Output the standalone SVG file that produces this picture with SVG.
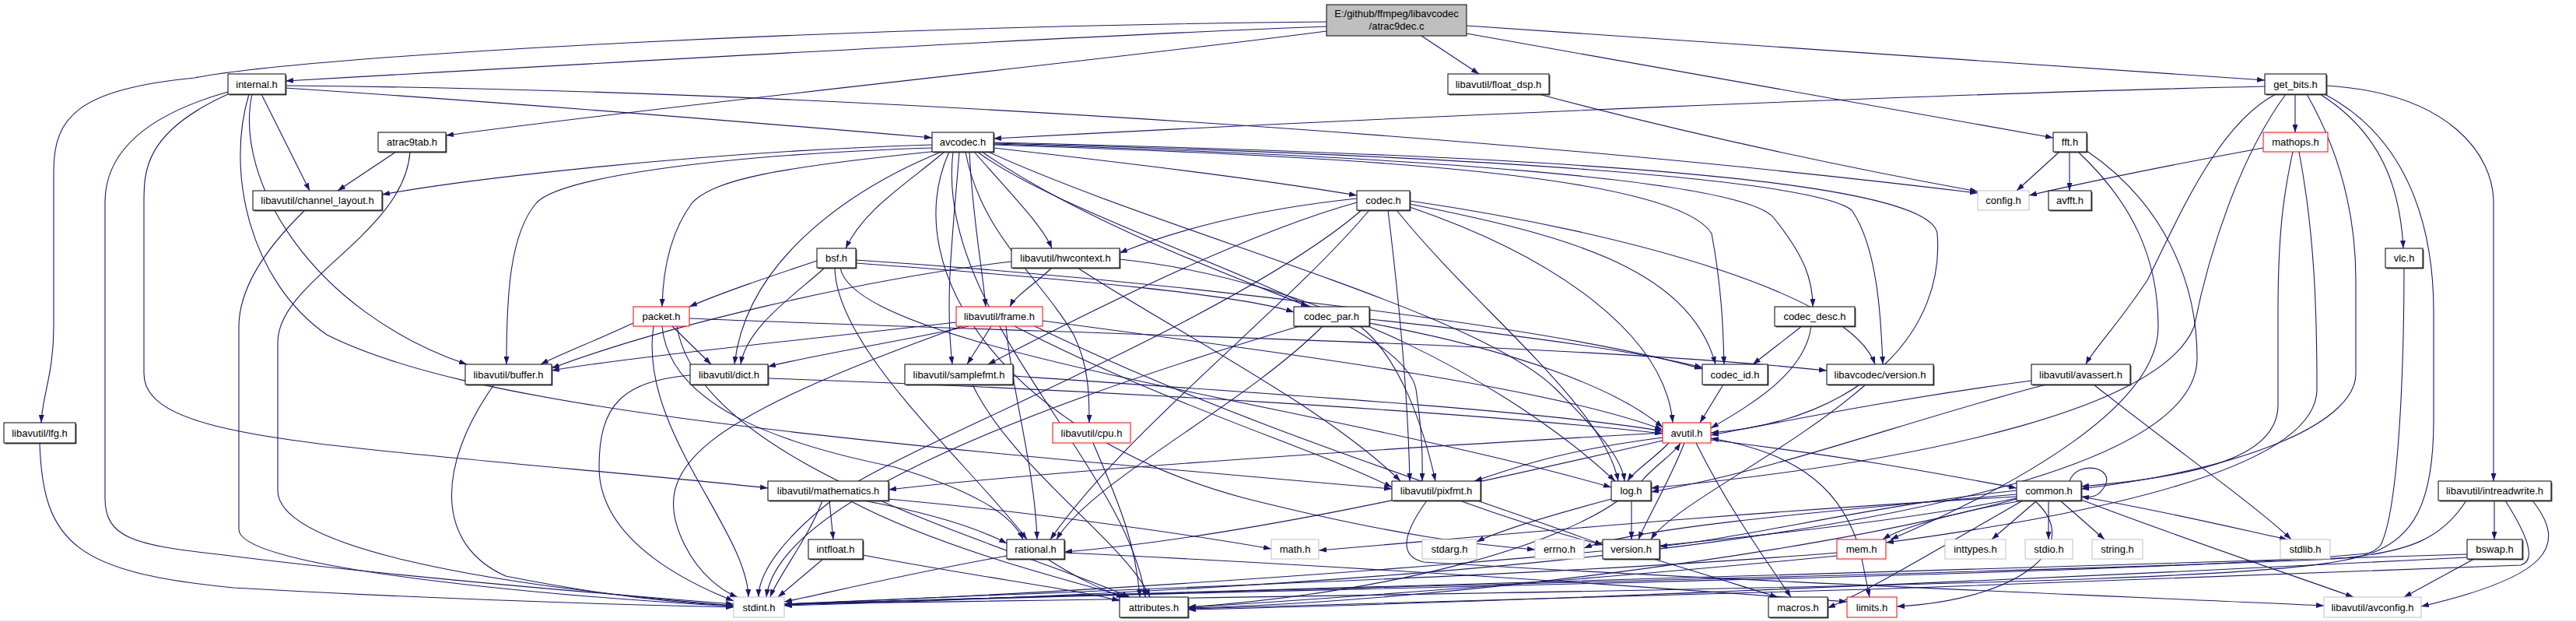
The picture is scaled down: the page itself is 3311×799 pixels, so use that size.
<svg xmlns="http://www.w3.org/2000/svg" width="3311" height="799" viewBox="0 0 3311 799">
<style>
.e{fill:none;stroke:#191970;stroke-width:1.1;marker-end:url(#a)}
.b{fill:#fff;stroke:#000;stroke-width:1}
.r{fill:#fff;stroke:#ff0000;stroke-width:1}
.g{fill:#fff;stroke:#bfbfbf;stroke-width:1}
.s{fill:#505050}
text{font-family:"Liberation Sans",Arial,sans-serif;font-size:13px;fill:#000;text-anchor:middle}
</style>
<defs>
<marker id="a" viewBox="0 0 10 7" refX="10" refY="3.5" markerWidth="10" markerHeight="7" markerUnits="userSpaceOnUse" orient="auto"><path d="M0,0 L10,3.5 L0,7 z" fill="#191970"/></marker>
</defs>
<rect width="3311" height="799" fill="#fff"/>
<line x1="0" y1="798" x2="3311" y2="798" stroke="#c0c0c0"/>
<g id="edges">
<path class="e" d="M1705,34 C1400,45 700,85 367,104"/>
<path class="e" d="M1705,28 C1100,34 400,70 250,100 C100,115 69,150 69,220 L69,420 C69,480 54,510 53,543"/>
<path class="e" d="M1705,40 C1400,80 900,130 573,174"/>
<path class="e" d="M1827,46 L1901,95"/>
<path class="e" d="M1885,33 L2911,103"/>
<path class="e" d="M1885,43 L2639,177"/>
<path class="e" d="M367,113 C700,135 1000,160 1198,177"/>
<path class="e" d="M367,110 C1000,115 1900,170 2542,248"/>
<path class="e" d="M336,121 L398,245"/>
<path class="e" d="M293,118 C180,150 135,200 135,260 L135,640 C135,690 170,700 280,712 C500,740 800,765 943,776"/>
<path class="e" d="M293,121 C185,170 185,220 185,260 L185,480 C185,540 300,560 520,582 C700,600 850,612 987,627"/>
<path class="e" d="M320,121 C290,220 320,360 420,430 C600,520 1000,560 1789,628"/>
<path class="e" d="M324,121 C300,230 400,400 600,468"/>
<path class="e" d="M509,195 L434,245"/>
<path class="e" d="M527,195 C520,300 357,360 357,440 L357,630 C357,700 600,750 943,778"/>
<path class="e" d="M392,270 C330,330 307,380 307,420 L307,680 C307,730 700,765 943,779"/>
<path class="e" d="M51,569 C55,700 100,735 300,755 C600,772 850,778 943,780"/>
<path class="e" d="M1198,186 C900,195 600,230 491,250"/>
<path class="e" d="M1206,194 C1000,215 920,230 890,260 C860,300 852,350 851,394"/>
<path class="e" d="M1214,195 C1160,240 1110,270 1087,319"/>
<path class="e" d="M1198,190 C900,200 720,230 690,260 C655,300 651,380 651,468"/>
<path class="e" d="M1210,195 C1100,240 960,330 944,468"/>
<path class="e" d="M1246,195 C1250,280 1262,340 1267,394"/>
<path class="e" d="M1233,195 C1225,300 1214,380 1224,468"/>
<path class="e" d="M1252,195 C1300,250 1340,290 1352,319"/>
<path class="e" d="M1241,195 C1260,300 1340,360 1380,430 C1400,470 1400,510 1400,543"/>
<path class="e" d="M1277,190 C1500,215 1650,235 1744,251"/>
<path class="e" d="M1262,195 C1400,290 1600,360 1682,394"/>
<path class="e" d="M1277,186 C1700,200 2150,220 2200,300 C2215,380 2215,440 2216,468"/>
<path class="e" d="M1277,185 C1800,200 2240,230 2280,280 C2320,330 2330,360 2330,394"/>
<path class="e" d="M1277,184 C1900,200 2330,230 2380,270 C2415,320 2418,420 2420,468"/>
<path class="e" d="M1277,183 C2000,200 2480,230 2490,300 C2500,420 2400,540 2199,556"/>
<path class="e" d="M1270,195 C1500,300 1900,400 2000,500 C2060,560 2085,590 2088,618"/>
<path class="e" d="M1256,195 C1400,300 1800,400 1820,500 C1830,570 1828,600 1828,618"/>
<path class="e" d="M1225,195 C1200,400 1450,600 1472,767"/>
<path class="e" d="M1220,195 C1150,350 1300,560 1600,640 C1800,690 1900,700 1973,706"/>
<path class="e" d="M1744,255 C1600,270 1500,300 1439,325"/>
<path class="e" d="M1744,260 C1600,300 1400,400 1270,468"/>
<path class="e" d="M1750,270 C1600,400 1200,560 1100,620 C1000,690 975,740 975,767"/>
<path class="e" d="M1760,270 C1650,400 1450,550 1350,693"/>
<path class="e" d="M1784,270 C1800,400 1810,520 1812,618"/>
<path class="e" d="M1795,270 C1900,400 2060,520 2080,618"/>
<path class="e" d="M1812,262 C2000,300 2170,340 2205,468"/>
<path class="e" d="M1812,258 C2100,300 2380,380 2410,468"/>
<path class="e" d="M1812,266 C2000,330 2140,430 2150,543"/>
<path class="e" d="M1050,335 C990,355 930,375 886,394"/>
<path class="e" d="M1060,344 C1020,380 960,420 952,468"/>
<path class="e" d="M1073,344 C1075,450 1250,600 1320,693"/>
<path class="e" d="M1100,338 C1400,360 1600,380 1663,401"/>
<path class="e" d="M1100,334 C1500,360 2000,420 2188,474"/>
<path class="e" d="M1080,344 C1100,450 1700,520 2071,626"/>
<path class="e" d="M1300,336 C1100,360 850,420 709,473"/>
<path class="e" d="M1352,344 C1330,365 1305,380 1298,394"/>
<path class="e" d="M1385,344 C1500,420 1700,520 1800,618"/>
<path class="e" d="M1439,333 C1700,360 1950,500 2076,618"/>
<path class="e" d="M3090,344 C3090,450 3085,650 3060,700 C3030,740 2800,750 1008,776"/>
<path class="e" d="M814,415 C760,440 720,455 695,468"/>
<path class="e" d="M864,419 L914,468"/>
<path class="e" d="M851,419 C860,520 1000,570 1150,600 C1250,630 1300,660 1315,693"/>
<path class="e" d="M840,419 C820,550 960,680 962,767"/>
<path class="e" d="M870,419 C900,600 1300,700 1452,767"/>
<path class="e" d="M886,409 C1400,430 2000,440 2348,476"/>
<path class="e" d="M1229,414 C1000,440 800,460 709,476"/>
<path class="e" d="M1245,419 C1150,440 1050,455 987,471"/>
<path class="e" d="M1236,419 C900,540 830,600 880,700 C900,740 930,760 948,767"/>
<path class="e" d="M1274,419 L1243,468"/>
<path class="e" d="M1293,419 C1300,500 1330,600 1333,693"/>
<path class="e" d="M1304,419 C1500,520 1700,580 1789,626"/>
<path class="e" d="M1340,412 C1700,460 2000,500 2137,552"/>
<path class="e" d="M1330,419 C1600,550 1900,640 2060,700"/>
<path class="e" d="M1700,419 C1600,520 1400,620 1358,693"/>
<path class="e" d="M1670,419 C1300,530 1000,650 985,767"/>
<path class="e" d="M1748,419 C1800,460 1830,550 1845,618"/>
<path class="e" d="M1760,410 C1950,430 2100,450 2188,472"/>
<path class="e" d="M1760,415 C1950,450 2080,500 2137,549"/>
<path class="e" d="M2316,419 L2253,468"/>
<path class="e" d="M2328,419 C2320,480 2250,520 2199,550"/>
<path class="e" d="M2215,494 L2185,543"/>
<path class="e" d="M2398,494 C2300,580 2150,650 2122,693"/>
<path class="e" d="M887,482 C800,490 770,520 770,600 C770,700 900,755 943,772"/>
<path class="e" d="M987,486 C1400,500 1900,530 2137,557"/>
<path class="e" d="M1250,494 C1300,600 1450,700 1478,767"/>
<path class="e" d="M1302,483 C1700,510 2000,530 2137,554"/>
<path class="e" d="M1405,569 C1440,650 1460,700 1465,767"/>
<path class="e" d="M635,494 C560,600 560,700 650,740 C800,770 900,776 943,778"/>
<path class="e" d="M1066,643 L1071,693"/>
<path class="e" d="M1057,643 C1040,690 1000,740 990,767"/>
<path class="e" d="M1110,643 C1200,660 1260,680 1294,698"/>
<path class="e" d="M1092,643 C1200,700 1350,740 1450,767"/>
<path class="e" d="M1142,641 C1350,660 1550,690 1634,705"/>
<path class="e" d="M1058,718 L1000,767"/>
<path class="e" d="M1109,713 C1250,740 1400,760 1439,772"/>
<path class="e" d="M1294,714 C1150,740 1050,765 1008,773"/>
<path class="e" d="M1346,718 C1380,740 1420,760 1445,767"/>
<path class="e" d="M1368,710 C1800,730 2200,760 2374,773"/>
<path class="e" d="M1834,643 C1800,690 1800,715 1830,722 C2200,745 2700,765 2987,778"/>
<path class="e" d="M1876,643 C1950,670 2020,690 2060,700"/>
<path class="e" d="M2071,641 C2000,660 1930,680 1898,696"/>
<path class="e" d="M2097,643 L2097,693"/>
<path class="e" d="M2110,618 C2130,595 2150,585 2160,569"/>
<path class="e" d="M2145,569 C2125,590 2100,605 2092,618"/>
<path class="e" d="M2080,643 C2000,700 1800,760 1527,780"/>
<path class="e" d="M2137,562 C2000,580 1950,600 1895,618"/>
<path class="e" d="M2137,556 C1800,575 1400,600 1142,629"/>
<path class="e" d="M2137,566 C1900,620 1600,690 1368,709"/>
<path class="e" d="M2165,569 C2145,620 2115,670 2106,693"/>
<path class="e" d="M2180,569 C2220,650 2270,720 2302,767"/>
<path class="e" d="M2199,565 C2400,590 2500,610 2592,627"/>
<path class="e" d="M2618,643 L2560,693"/>
<path class="e" d="M2633,643 L2633,693"/>
<path class="e" d="M2648,643 L2705,693"/>
<path class="e" d="M2675,638 C2800,660 2900,685 2940,693"/>
<path class="e" d="M2675,642 C2800,690 2950,740 3025,767"/>
<path class="e" d="M2592,630 C2400,650 2250,690 2133,702"/>
<path class="e" d="M2592,635 C2300,660 2100,680 2036,704"/>
<path class="e" d="M2592,638 C2200,660 1900,690 1695,707"/>
<path class="e" d="M2600,643 C2500,660 2440,680 2420,693"/>
<path class="e" d="M2592,640 C2300,700 1500,758 1008,776"/>
<path class="e" d="M2592,641 C2300,720 1800,775 1527,781"/>
<path class="e" d="M2600,643 C2500,700 2400,760 2349,781"/>
<path class="e" d="M2615,643 C2680,700 2600,770 2438,779"/>
<path class="e" d="M2660,618 C2670,590 2720,600 2705,625 C2698,637 2690,640 2675,638"/>
<path class="e" d="M2911,111 C2500,120 1800,150 1277,178"/>
<path class="e" d="M2950,121 L2950,170"/>
<path class="e" d="M2982,121 C3060,170 3085,240 3089,319"/>
<path class="e" d="M2990,110 C3150,120 3205,200 3205,260 L3205,618"/>
<path class="e" d="M2925,121 C2850,160 2800,280 2760,360 C2720,420 2690,450 2681,468"/>
<path class="e" d="M2938,121 C2880,200 2840,320 2820,420 C2780,520 2500,590 2122,627"/>
<path class="e" d="M2965,121 C3010,200 3028,280 3028,360 L3028,480 C3028,540 2900,600 2675,628"/>
<path class="e" d="M2988,121 C3100,180 3128,300 3128,400 L3128,540 C3128,650 3100,690 3050,710 C2800,740 1500,758 1008,777"/>
<path class="e" d="M2909,190 C2800,210 2700,230 2608,251"/>
<path class="e" d="M2947,195 C2935,250 2928,300 2928,400 L2928,520 C2928,580 2850,610 2675,625"/>
<path class="e" d="M2955,195 C2975,300 2978,400 2978,500 C2978,600 2700,660 2424,697"/>
<path class="e" d="M2647,195 L2592,245"/>
<path class="e" d="M2660,195 L2660,245"/>
<path class="e" d="M2671,195 C2740,260 2774,330 2774,420 C2774,520 2600,620 2430,693"/>
<path class="e" d="M2681,193 C2780,260 2824,360 2824,460 C2824,620 2300,740 1008,778"/>
<path class="e" d="M2691,494 C2800,580 2900,650 2945,693"/>
<path class="e" d="M2611,489 C2450,510 2300,540 2199,559"/>
<path class="e" d="M2630,494 C2450,540 2300,600 2122,632"/>
<path class="e" d="M3206,643 L3206,693"/>
<path class="e" d="M3255,643 C3300,700 3280,740 3112,779"/>
<path class="e" d="M3170,643 C3140,690 3100,710 3000,718 C2500,740 1500,758 1008,777"/>
<path class="e" d="M3220,643 C3250,690 3260,720 3240,726 C2800,745 1900,775 1527,782"/>
<path class="e" d="M3180,718 L3090,767"/>
<path class="e" d="M3171,712 C2500,735 1500,758 1008,776"/>
<path class="e" d="M3171,716 C2600,745 1900,775 1527,783"/>
<path class="e" d="M2393,718 L2403,767"/>
<path class="e" d="M2386,693 C2360,620 2300,580 2199,563"/>
<path class="e" d="M2361,710 C2000,740 1400,758 1008,776"/>
<path class="e" d="M2361,714 C2100,740 1700,770 1527,780"/>
<path class="e" d="M2125,718 C2200,740 2260,760 2285,767"/>
<path class="e" d="M1978,121 C2200,180 2400,220 2542,246"/>
</g>
<g id="n_main"><rect x="1705" y="6" width="180" height="40" fill="#bfbfbf" stroke="#000"/><text x="1795" y="22">E:/github/ffmpeg/libavcodec</text><text x="1795" y="38">/atrac9dec.c</text></g>
<g id="n_internal"><rect class="s" x="294.5" y="96.5" width="74" height="26"/><rect class="b" x="293" y="95" width="74" height="26"/><text x="330" y="112.5">internal.h</text></g>
<g id="n_float_dsp"><rect class="s" x="1862.5" y="96.5" width="130" height="26"/><rect class="b" x="1861" y="95" width="130" height="26"/><text x="1926" y="112.5">libavutil/float_dsp.h</text></g>
<g id="n_get_bits"><rect class="s" x="2912.5" y="96.5" width="79" height="26"/><rect class="b" x="2911" y="95" width="79" height="26"/><text x="2950.5" y="112.5">get_bits.h</text></g>
<g id="n_atrac9tab"><rect class="s" x="487.5" y="171.5" width="87" height="25"/><rect class="b" x="486" y="170" width="87" height="25"/><text x="529.5" y="187">atrac9tab.h</text></g>
<g id="n_avcodec"><rect class="s" x="1199.5" y="171.5" width="79" height="25"/><rect class="b" x="1198" y="170" width="79" height="25"/><text x="1237.5" y="187">avcodec.h</text></g>
<g id="n_fft"><rect class="s" x="2640.5" y="171.5" width="43" height="25"/><rect class="b" x="2639" y="170" width="43" height="25"/><text x="2660.5" y="187">fft.h</text></g>
<g id="n_mathops"><rect class="r" x="2909" y="170" width="83" height="25"/><text x="2950.5" y="187">mathops.h</text></g>
<g id="n_channel_layout"><rect class="s" x="326.5" y="246.5" width="166" height="25"/><rect class="b" x="325" y="245" width="166" height="25"/><text x="408" y="262">libavutil/channel_layout.h</text></g>
<g id="n_codec"><rect class="s" x="1745.5" y="246.5" width="68" height="25"/><rect class="b" x="1744" y="245" width="68" height="25"/><text x="1778" y="262">codec.h</text></g>
<g id="n_config"><rect class="g" x="2542" y="245" width="66" height="25"/><text x="2575" y="262">config.h</text></g>
<g id="n_avfft"><rect class="s" x="2634.5" y="246.5" width="55" height="25"/><rect class="b" x="2633" y="245" width="55" height="25"/><text x="2660.5" y="262">avfft.h</text></g>
<g id="n_bsf"><rect class="s" x="1051.5" y="320.5" width="50" height="25"/><rect class="b" x="1050" y="319" width="50" height="25"/><text x="1075" y="336">bsf.h</text></g>
<g id="n_hwcontext"><rect class="s" x="1301.5" y="320.5" width="139" height="25"/><rect class="b" x="1300" y="319" width="139" height="25"/><text x="1369.5" y="336">libavutil/hwcontext.h</text></g>
<g id="n_vlc"><rect class="s" x="3067.5" y="320.5" width="48" height="25"/><rect class="b" x="3066" y="319" width="48" height="25"/><text x="3090" y="336">vlc.h</text></g>
<g id="n_packet"><rect class="r" x="814" y="394" width="72" height="25"/><text x="850" y="411">packet.h</text></g>
<g id="n_frame"><rect class="r" x="1229" y="394" width="111" height="25"/><text x="1284.5" y="411">libavutil/frame.h</text></g>
<g id="n_codec_par"><rect class="s" x="1664.5" y="395.5" width="97" height="25"/><rect class="b" x="1663" y="394" width="97" height="25"/><text x="1711.5" y="411">codec_par.h</text></g>
<g id="n_codec_desc"><rect class="s" x="2282.5" y="395.5" width="103" height="25"/><rect class="b" x="2281" y="394" width="103" height="25"/><text x="2332.5" y="411">codec_desc.h</text></g>
<g id="n_buffer"><rect class="s" x="599.5" y="469.5" width="111" height="26"/><rect class="b" x="598" y="468" width="111" height="26"/><text x="653.5" y="485.5">libavutil/buffer.h</text></g>
<g id="n_dict"><rect class="s" x="888.5" y="469.5" width="100" height="26"/><rect class="b" x="887" y="468" width="100" height="26"/><text x="937" y="485.5">libavutil/dict.h</text></g>
<g id="n_samplefmt"><rect class="s" x="1164.5" y="469.5" width="139" height="26"/><rect class="b" x="1163" y="468" width="139" height="26"/><text x="1232.5" y="485.5">libavutil/samplefmt.h</text></g>
<g id="n_codec_id"><rect class="s" x="2189.5" y="469.5" width="84" height="26"/><rect class="b" x="2188" y="468" width="84" height="26"/><text x="2230" y="485.5">codec_id.h</text></g>
<g id="n_lavc_version"><rect class="s" x="2349.5" y="469.5" width="137" height="26"/><rect class="b" x="2348" y="468" width="137" height="26"/><text x="2416.5" y="485.5">libavcodec/version.h</text></g>
<g id="n_avassert"><rect class="s" x="2612.5" y="469.5" width="127" height="26"/><rect class="b" x="2611" y="468" width="127" height="26"/><text x="2674.5" y="485.5">libavutil/avassert.h</text></g>
<g id="n_lfg"><rect class="s" x="6.5" y="544.5" width="92" height="26"/><rect class="b" x="5" y="543" width="92" height="26"/><text x="51" y="560.5">libavutil/lfg.h</text></g>
<g id="n_cpu"><rect class="r" x="1353" y="543" width="100" height="26"/><text x="1403" y="560.5">libavutil/cpu.h</text></g>
<g id="n_avutil"><rect class="r" x="2137" y="543" width="62" height="26"/><text x="2168" y="560.5">avutil.h</text></g>
<g id="n_mathematics"><rect class="s" x="988.5" y="619.5" width="155" height="25"/><rect class="b" x="987" y="618" width="155" height="25"/><text x="1064.5" y="635">libavutil/mathematics.h</text></g>
<g id="n_pixfmt"><rect class="s" x="1790.5" y="619.5" width="114" height="25"/><rect class="b" x="1789" y="618" width="114" height="25"/><text x="1846" y="635">libavutil/pixfmt.h</text></g>
<g id="n_log"><rect class="s" x="2072.5" y="619.5" width="51" height="25"/><rect class="b" x="2071" y="618" width="51" height="25"/><text x="2096.5" y="635">log.h</text></g>
<g id="n_common"><rect class="s" x="2593.5" y="619.5" width="83" height="25"/><rect class="b" x="2592" y="618" width="83" height="25"/><text x="2633.5" y="635">common.h</text></g>
<g id="n_intreadwrite"><rect class="s" x="3135.5" y="619.5" width="145" height="25"/><rect class="b" x="3134" y="618" width="145" height="25"/><text x="3206.5" y="635">libavutil/intreadwrite.h</text></g>
<g id="n_intfloat"><rect class="s" x="1040.5" y="694.5" width="70" height="25"/><rect class="b" x="1039" y="693" width="70" height="25"/><text x="1074" y="710">intfloat.h</text></g>
<g id="n_rational"><rect class="s" x="1295.5" y="694.5" width="74" height="25"/><rect class="b" x="1294" y="693" width="74" height="25"/><text x="1331" y="710">rational.h</text></g>
<g id="n_math"><rect class="g" x="1634" y="693" width="61" height="25"/><text x="1664.5" y="710">math.h</text></g>
<g id="n_stdarg"><rect class="g" x="1828" y="693" width="70" height="25"/><text x="1863" y="710">stdarg.h</text></g>
<g id="n_errno"><rect class="g" x="1973" y="693" width="63" height="25"/><text x="2004.5" y="710">errno.h</text></g>
<g id="n_version"><rect class="s" x="2061.5" y="694.5" width="73" height="25"/><rect class="b" x="2060" y="693" width="73" height="25"/><text x="2096.5" y="710">version.h</text></g>
<g id="n_mem"><rect class="r" x="2361" y="693" width="63" height="25"/><text x="2392.5" y="710">mem.h</text></g>
<g id="n_inttypes"><rect class="g" x="2500" y="693" width="78" height="25"/><text x="2539" y="710">inttypes.h</text></g>
<g id="n_stdio"><rect class="g" x="2603" y="693" width="61" height="25"/><text x="2633.5" y="710">stdio.h</text></g>
<g id="n_string"><rect class="g" x="2689" y="693" width="65" height="25"/><text x="2721.5" y="710">string.h</text></g>
<g id="n_stdlib"><rect class="g" x="2931" y="693" width="64" height="25"/><text x="2963" y="710">stdlib.h</text></g>
<g id="n_bswap"><rect class="s" x="3172.5" y="694.5" width="71" height="25"/><rect class="b" x="3171" y="693" width="71" height="25"/><text x="3206.5" y="710">bswap.h</text></g>
<g id="n_stdint"><rect class="g" x="943" y="767" width="65" height="26"/><text x="975.5" y="784.5">stdint.h</text></g>
<g id="n_attributes"><rect class="s" x="1440.5" y="768.5" width="88" height="26"/><rect class="b" x="1439" y="767" width="88" height="26"/><text x="1483" y="784.5">attributes.h</text></g>
<g id="n_macros"><rect class="s" x="2274.5" y="768.5" width="76" height="26"/><rect class="b" x="2273" y="767" width="76" height="26"/><text x="2311" y="784.5">macros.h</text></g>
<g id="n_limits"><rect class="r" x="2374" y="767" width="64" height="26"/><text x="2406" y="784.5">limits.h</text></g>
<g id="n_avconfig"><rect class="g" x="2987" y="767" width="125" height="26"/><text x="3049.5" y="784.5">libavutil/avconfig.h</text></g>
</svg>
